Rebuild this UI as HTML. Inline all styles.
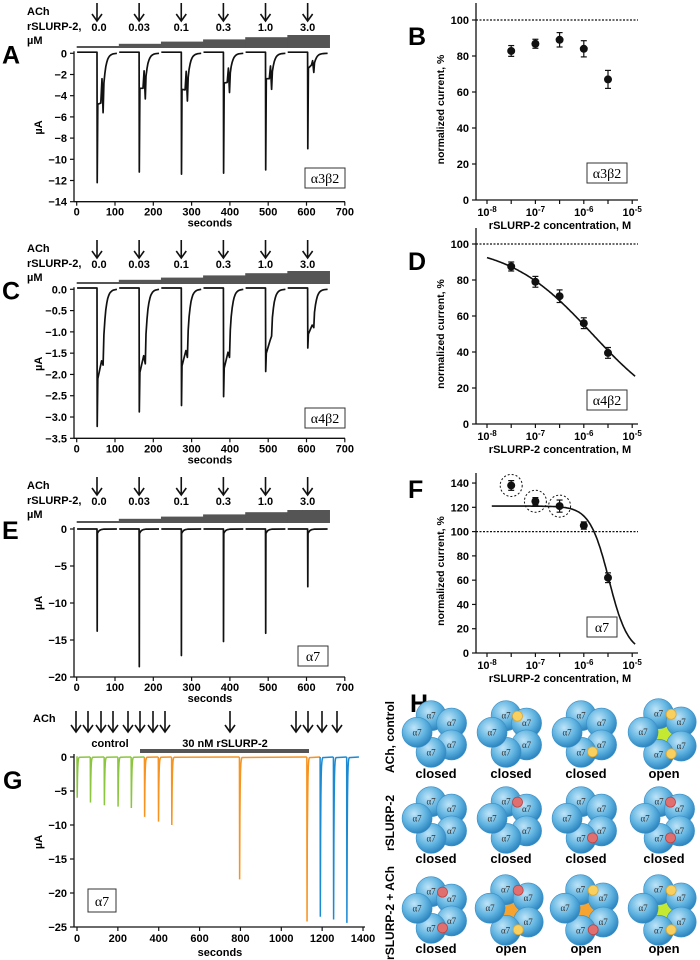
<!DOCTYPE html>
<html><head><meta charset="utf-8"><style>
body{margin:0;background:#fff}
svg{display:block;font-family:"Liberation Sans",Arial,sans-serif}
.t{font-size:11px;font-weight:bold}
.L{font-size:25px;font-weight:bold}
</style></head><body>
<svg id="fig" width="700" height="960" viewBox="0 0 700 960"></svg>
<script>
// ---- data ----
const sweepStarts=[0,110,220,330,440,550];
const concLabels=["0.0","0.03","0.1","0.3","1.0","3.0"];
const aPeaks=[-12.2,-11.2,-11.4,-11.3,-11.0,-9.0];
const aPlateau=[-4.8,-3.3,-3.4,-2.8,-2.4,-1.4];
const aDips=[-5.6,-4.3,-4.5,-3.7,-3.4,-1.8];
const cPeaks=[-3.22,-2.88,-2.73,-2.52,-1.93,-1.38];
const cPlateau=[-2.1,-1.95,-1.8,-1.85,-1.5,-1.05];
const cDips=[-1.78,-1.75,-1.6,-1.6,-1.1,-0.9];
const ePeaks=[-13.8,-18.6,-17.1,-15.2,-14.1,-7.8];
const logConc=[-7.5,-7,-6.5,-6,-5.5];
const bVals=[82.8,86.8,89,84,67];const bErr=[3,2.5,4,4.5,5];
const dVals=[87.5,79,71,56,39.5];const dErr=[2.5,3,3.5,3,3];
const fVals=[138,125,121,105,62];const fErr=[4,3,5,3,4];
const gTimes=[0,65,133,200,265,330,398,463,795,1125,1190,1255,1320];
const gPeaks=[-6,-6.7,-7.1,-7.3,-7.5,-8.8,-9.5,-10,-18,-24.2,-23.5,-23.9,-24.4];
const gGroups=["control","control","control","control","control","slurp","slurp","slurp","slurp","slurp","wash","wash","wash"];

const NS="http://www.w3.org/2000/svg";const svg=document.getElementById('fig');
function el(tag,attrs,parent,txt){const e=document.createElementNS(NS,tag);for(const k in attrs)e.setAttribute(k,attrs[k]);if(txt!==undefined)e.textContent=txt;(parent||svg).appendChild(e);return e;}
function txt(x,y,s,cls,anchor,name,extra){const t=el('text',Object.assign({x:x,y:y,class:cls||'t','text-anchor':anchor||'middle'},extra||{}),null,s);

return t;}
function line(x1,y1,x2,y2,w,name,extra){const l=el('line',Object.assign({x1,y1,x2,y2,stroke:'#111','stroke-width':w||1.3},extra||{}));

return l;}
function arrow(x,y1,y2,name){const g=el('g',{});


el('line',{x1:x,y1:y1,x2:x,y2:y2-1,stroke:'#111','stroke-width':1.6},g);
el('path',{d:`M${x-5},${y2-7} L${x},${y2} L${x+5},${y2-7}`,fill:'none',stroke:'#111','stroke-width':1.6},g);}

// ---- trace panels (A, C, E) ----
function tracePanel(o){
 const X=t=>76.7+t*0.383; const Y=v=>o.y0+(v-0)*(o.yN-o.y0)/o.vmin;
 txt(2,o.y0+10,o.letter,'L','start','panel-letter-'+o.letter.toLowerCase());
 txt(27,o.top+12,'ACh','t','start','ach-label');
 txt(27,o.top+27,'rSLURP-2,','t','start','rslurp-label');
 txt(27,o.top+41,'µM','t','start','unit-label');
 sweepStarts.forEach((s,i)=>{const cx=X(s+53);arrow(cx,o.top,o.top+18,'ach-arrow-'+i);
   txt(cx+(i==0?2:0),o.top+28,concLabels[i],'t','middle','conc-label-'+i);
   const h=2+i*2.2;const r=el('rect',{x:X(s),y:o.barBot-h,width:X(s+110)-X(s)+0.5,height:h,fill:'#555'});
   
   });
 line(74,o.y0-2,74,o.yN,1.3,'y-axis');line(74,o.yN,345,o.yN,1.3,'x-axis');
 o.yticks.forEach(v=>{line(70,Y(v),74,Y(v),1.2,'y-tick');txt(67,Y(v)+4,o.fmt(v),'t','end','y-tick-label');});
 [0,100,200,300,400,500,600,700].forEach(v=>{line(X(v),o.yN,X(v),o.yN+4,1.2,'x-tick');txt(X(v),o.yN+14,String(v),'t','middle','x-tick-label');});
 txt(210,o.yN+25,'seconds','t','middle','x-axis-title');
 txt(0,0,'µA','t','middle','y-axis-title',{transform:`translate(42,${(o.y0+o.yN)/2}) rotate(-90)`});
 sweepStarts.forEach((s,i)=>{const tp=s+53;let pts=[[s+1,o.base],[tp,o.base]];pts=pts.concat(o.shape(i,tp));
   let d=pts.map((p,k)=>(k?'L':'M')+X(p[0]).toFixed(1)+','+Y(p[1]).toFixed(1)).join(' ');
   const p=el('path',{d:d,fill:'none',stroke:'#111','stroke-width':1.7,'stroke-linejoin':'round'});
   
   });
 const bx=el('g',{});
 el('rect',{x:o.box[0],y:o.box[1],width:o.box[2],height:20,fill:'#fff',stroke:'#333','stroke-width':1},bx);
 el('text',{x:o.box[0]+o.box[2]/2,y:o.box[1]+15,'text-anchor':'middle','font-family':'Liberation Serif, serif','font-size':'14'},bx,o.rec);
}
function expTail(tStart,v0,dur,n){const a=[];for(let k=1;k<=n;k++){const t=tStart+dur*k/n;a.push([t,v0*Math.exp(-4*k/n)]);}return a;}
tracePanel({letter:'A',top:3,barBot:48,y0:53.3,yN:201.7,vmin:-14,base:0.1,yticks:[0,-2,-4,-6,-8,-10,-12,-14],fmt:v=>v==0?'0':'−'+(-v),rec:'α3β2',box:[305,168,40],
 shape:(i,tp)=>{const P=[[tp+0.5,aPeaks[i]],[tp+2,aPlateau[i]],[tp+10,(aPlateau[i]+aDips[i])/2+0.5],[tp+13,aPlateau[i]/2],[tp+16,aDips[i]],[tp+18,aDips[i]*0.5]];return P.concat(expTail(tp+18,aDips[i]*0.5,25,10)).concat([[tp+52,0]]);}});
tracePanel({letter:'C',top:240,barBot:284,y0:289.3,yN:438.3,vmin:-3.5,base:0.03,yticks:[0,-0.5,-1,-1.5,-2,-2.5,-3,-3.5],fmt:v=>v==0?'0.0':'−'+(-v).toFixed(1),rec:'α4β2',box:[305,408,40],
 shape:(i,tp)=>{const P=[[tp+0.5,cPeaks[i]],[tp+2,cPlateau[i]],[tp+12,cPlateau[i]*0.8],[tp+16,cDips[i]],[tp+18,cDips[i]*0.6]];return P.concat(expTail(tp+18,cDips[i]*0.6,25,10)).concat([[tp+52,0]]);}});
tracePanel({letter:'E',top:477,barBot:523,y0:529,yN:677,vmin:-20,base:0,yticks:[0,-5,-10,-15,-20],fmt:v=>v==0?'0':'−'+(-v),rec:'α7',box:[298,646,30],
 shape:(i,tp)=>{const P=[[tp+0.4,ePeaks[i]],[tp+1,-0.6]];return P.concat(expTail(tp+1,-0.6,20,8)).concat([[tp+52,0]]);}});

// ---- dose-response panels (B, D, F) ----
function drPanel(o){
 const X=l=>487+(l+8)*48.4; const Y=v=>o.y0-v*o.k;
 txt(408,o.letY,o.letter,'L','start','panel-letter-'+o.letter.toLowerCase());
 line(476,o.y0,476,o.ytop,1.3,'y-axis');line(476,o.y0,638,o.y0,1.3,'x-axis');
 o.yticks.forEach(v=>{line(472,Y(v),476,Y(v),1.2,'y-tick');txt(469,Y(v)+4,String(v),'t','end','y-tick-label');});
 [-8,-7,-6,-5].forEach(e=>{line(X(e),o.y0,X(e),o.y0+4,1.2,'x-tick');
   const t=txt(X(e),o.y0+16,'10','t','middle','x-tick-label');el('tspan',{dy:-4,'font-size':'8'},t,String(e));});
 [-7.5,-6.5,-5.5].forEach(e=>line(X(e),o.y0,X(e),o.y0+4,1.2,'x-minor-tick'));
 txt(560,o.y0+29,'rSLURP-2 concentration, M','t','middle','x-axis-title');
 txt(0,0,'normalized current, %','t','middle','y-axis-title',{transform:`translate(444,${(o.y0+o.ytop)/2+8}) rotate(-90)`,style:'font-size:10.5px'});
 line(476,Y(100),638,Y(100),1.2,'reference-line-100',{'stroke-dasharray':'2,1.5'});
 if(o.fit){let d='';for(let l=o.fit.from;l<=-4.93;l+=0.02){const v=o.fit.top/(1+Math.pow(Math.pow(10,l)/o.fit.ic50,o.fit.n));d+=(d?'L':'M')+X(l).toFixed(1)+','+Y(v).toFixed(1);}
   const p=el('path',{d:d,fill:'none',stroke:'#111','stroke-width':1.6});}
 logConc.forEach((l,i)=>{const g=el('g',{});
   const x=X(l),y=Y(o.vals[i]),e=o.err[i]*o.k;
   el('line',{x1:x,y1:y-e,x2:x,y2:y+e,stroke:'#111','stroke-width':1.2},g);
   el('line',{x1:x-3,y1:y-e,x2:x+3,y2:y-e,stroke:'#111','stroke-width':1.2},g);
   el('line',{x1:x-3,y1:y+e,x2:x+3,y2:y+e,stroke:'#111','stroke-width':1.2},g);
   el('circle',{cx:x,cy:y,r:4,fill:'#111'},g);
   if(o.circled&&i<3)el('circle',{cx:x,cy:y,r:11,fill:'none',stroke:'#111','stroke-width':1,'stroke-dasharray':'2,2'},g);});
 const bx=el('g',{});
 el('rect',{x:o.box[0],y:o.box[1],width:o.box[2],height:20,fill:'#fff',stroke:'#333','stroke-width':1},bx);
 el('text',{x:o.box[0]+o.box[2]/2,y:o.box[1]+15,'text-anchor':'middle','font-family':'Liberation Serif, serif','font-size':'14'},bx,o.rec);
}
drPanel({letter:'B',letY:45,y0:200,ytop:3,k:1.8,yticks:[0,20,40,60,80,100],vals:bVals,err:bErr,rec:'α3β2',box:[587,163,40]});
drPanel({letter:'D',letY:270,y0:424,ytop:228,k:1.8,yticks:[0,20,40,60,80,100],vals:dVals,err:dErr,rec:'α4β2',box:[587,390,40],fit:{top:100,ic50:1.5e-6,n:0.5,from:-8}});
drPanel({letter:'F',letY:498,y0:653,ytop:473,k:1.214,yticks:[0,20,40,60,80,100,120,140],vals:fVals,err:fErr,rec:'α7',box:[587,617,30],circled:true,fit:{top:121,ic50:3.3e-6,n:2.2,from:-7.9}});

// ---- panel G ----
(function(){
 const X=t=>77+t*0.2043, Y=v=>757-v*6.8;
 txt(3,789,'G','L','start','panel-letter-g');
 txt(33,722,'ACh','t','start','ach-label');
 [76,88,101,113,128,140,153,165,230,296,308,322,337].forEach((x,i)=>arrow(x,711,732,'ach-arrow-g-'+i));
 txt(110,747,'control','t','middle','control-label');
 txt(225,747,'30 nM rSLURP-2','t','middle','treatment-label');
 const r=el('rect',{x:140,y:749,width:169,height:4,fill:'#555'});
 line(74,754,74,927,1.3,'y-axis');line(74,927,365,927,1.3,'x-axis');
 [0,-5,-10,-15,-20,-25].forEach(v=>{line(70,Y(v),74,Y(v),1.2,'y-tick');txt(67,Y(v)+4,v==0?'0':'−'+(-v),'t','end','y-tick-label');});
 [0,200,400,600,800,1000,1200,1400].forEach(v=>{line(X(v),927,X(v),931,1.2,'x-tick');txt(X(v),942,String(v),'t','middle','x-tick-label');});
 txt(220,956,'seconds','t','middle','x-axis-title');
 txt(0,0,'µA','t','middle','y-axis-title',{transform:'translate(42,842) rotate(-90)'});
 const col={control:'#8cc63f',slurp:'#f7931e',wash:'#1b8ad3'};
 gTimes.forEach((t,i)=>{const end=i<gTimes.length-1?gTimes[i+1]:1380;const start=i==0?-3:t;
   let d=`M${X(start)},${Y(0)} L${X(t)},${Y(0)} L${X(t+1)},${Y(gPeaks[i])}`;
   for(let k=1;k<=8;k++){d+=` L${X(t+1+k*1.5).toFixed(1)},${Y(gPeaks[i]*Math.exp(-k*0.7)).toFixed(1)}`;}
   d+=` L${X(end)},${Y(0)}`;
   const p=el('path',{d:d,fill:'none',stroke:col[gGroups[i]],'stroke-width':1.5});
   
   });
 const bx=el('g',{});
 el('rect',{x:88,y:889,width:28,height:23,fill:'#fff',stroke:'#333','stroke-width':1},bx);
 el('text',{x:102,y:906,'text-anchor':'middle','font-family':'Liberation Serif, serif','font-size':'14'},bx,'α7');
})();

// ---- panel H ----
(function(){
 txt(410,712,'H','L','start','panel-letter-h');
 const defs=el('defs',{});
 const rg=el('radialGradient',{id:'cg',cx:'40%',cy:'35%',r:'65%'},defs);
 el('stop',{offset:'0','stop-color':'#bfe4f8'},rg);el('stop',{offset:'0.6','stop-color':'#5fb3e0'},rg);el('stop',{offset:'1','stop-color':'#2d86c0'},rg);
 const cols=[436,511,586,664], rows=[734,820,910], labY=[778,863,953];
 const rowLab=['ACh, control','rSLURP-2','rSLURP-2 + ACh'];
 const states=[[[0,0,0],['y',0,0],[0,'y',0],['y','y','g']],
               [[0,0,0],['r',0,0],[0,'r',0],['r','r',0]],
               [['r','r',0],['r','y','o'],['y','r','o'],['y','y','g']]];
 rowLab.forEach((s,r)=>txt(0,0,s,'t','middle','row-label-'+r,{transform:`translate(394,${rows[r]+3}) rotate(-90)`,style:'font-size:12px'}));
 const ang=[-105,-35,35,105,185];
 states.forEach((row,r)=>row.forEach((st,c)=>{
  const cx=cols[c],cy=rows[r];const g=el('g',{});
  
  
  const R=st[2]?21:19;
  if(st[2]){let d='';for(let k=0;k<10;k++){const a=(k*36-90)*Math.PI/180,rr=k%2?8:17;d+=(k?'L':'M')+(cx+rr*Math.cos(a)).toFixed(1)+','+(cy+rr*Math.sin(a)).toFixed(1);}
   el('path',{d:d+'Z',fill:st[2]=='g'?'#c5e830':'#f7a330'},g);}
  ang.forEach(a=>{const x=cx+R*Math.cos(a*Math.PI/180),y=cy+R*Math.sin(a*Math.PI/180);
   el('circle',{cx:x,cy:y,r:15,fill:'url(#cg)',stroke:'#3b8ec5','stroke-width':0.6},g);
   el('text',{x:x,y:y+3,'text-anchor':'middle','font-family':'Liberation Serif, serif','font-size':'9',fill:'#333'},g,'α7');});
  const lig=[[-70,st[0]],[70,st[1]]];
  lig.forEach(([a,t])=>{if(!t)return;const x=cx+(R)*Math.cos(a*Math.PI/180),y=cy+(R)*Math.sin(a*Math.PI/180);
   el('circle',{cx:x,cy:y,r:5,fill:t=='y'?'#f7d060':'#e07070',stroke:t=='y'?'#e0a830':'#c04040','stroke-width':0.8},g);});
  txt(cx,labY[r],st[2]?'open':'closed','t','middle','state-label-r'+r+'-c'+c,{style:'font-size:13px'});
 }));
})();
</script>
</body></html>
